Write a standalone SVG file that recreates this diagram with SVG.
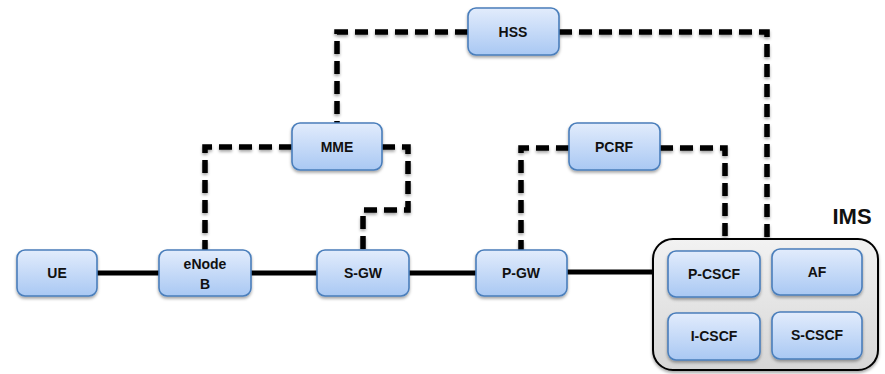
<svg xmlns="http://www.w3.org/2000/svg" width="885" height="374" viewBox="0 0 885 374">
<defs>
<linearGradient id="blue" x1="0" y1="0" x2="0" y2="1">
<stop offset="0" stop-color="#e2ecfc"/>
<stop offset="1" stop-color="#a9c8f3"/>
</linearGradient>
<linearGradient id="gray" x1="0" y1="0" x2="0" y2="1">
<stop offset="0" stop-color="#f2f2f2"/>
<stop offset="1" stop-color="#d6d6d6"/>
</linearGradient>
<filter id="sh" x="-20%" y="-20%" width="140%" height="150%">
<feDropShadow dx="0" dy="2" stdDeviation="1.5" flood-color="#000" flood-opacity="0.35"/>
</filter>
</defs>
<style>
.n{fill:url(#blue);stroke:#4a7ebb;stroke-width:1.6;filter:url(#sh)}
.t{font-family:"Liberation Sans",Arial,sans-serif;font-weight:bold;font-size:14px;fill:#111;text-anchor:middle}
.solid{fill:none;stroke:#000;stroke-width:5}
.dash{fill:none;stroke:#000;stroke-width:5.5;stroke-dasharray:13 7;filter:url(#sh)}
</style>
<rect width="885" height="374" fill="#fff"/>
<g id="connectors">
<path class="solid" d="M97,273 H159"/>
<path class="solid" d="M251,273 H317"/>
<path class="solid" d="M409,273 H476"/>
<path class="solid" d="M567,272 H653"/>
<path class="dash" d="M468,32 H337 V123"/>
<path class="dash" d="M292,147 H205 V250"/>
<path class="dash" d="M382,147 H408 V210 H363 V250"/>
<path class="dash" d="M559,32 H767 V239"/>
<path class="dash" d="M613,32 V123"/>
<path class="dash" d="M569,148 H521 V250"/>
<path class="dash" d="M660,148 H725 V239"/>
</g>
<g id="IMS">
<rect x="653" y="239" width="225" height="131" rx="20" fill="url(#gray)" stroke="#000" stroke-width="2" filter="url(#sh)"/>
<text x="852" y="224" font-family="Liberation Sans,Arial,sans-serif" font-weight="bold" font-size="22" text-anchor="middle" fill="#111">IMS</text>
</g>
<g id="UE"><rect class="n" x="17" y="250" width="80" height="46" rx="8"/><text class="t" x="57" y="278">UE</text></g>
<g id="eNodeB"><rect class="n" x="159" y="250" width="92" height="46" rx="8"/><text class="t" x="205" y="269">eNode</text><text class="t" x="205" y="289">B</text></g>
<g id="S-GW"><rect class="n" x="317" y="250" width="92" height="46" rx="8"/><text class="t" x="363" y="278">S-GW</text></g>
<g id="P-GW"><rect class="n" x="476" y="250" width="91" height="46" rx="8"/><text class="t" x="521" y="278">P-GW</text></g>
<g id="MME"><rect class="n" x="292" y="123" width="90" height="47" rx="8"/><text class="t" x="337" y="152">MME</text></g>
<g id="PCRF"><rect class="n" x="569" y="123" width="91" height="47" rx="8"/><text class="t" x="614" y="152">PCRF</text></g>
<g id="HSS"><rect class="n" x="468" y="8" width="91" height="47" rx="8"/><text class="t" x="513" y="37">HSS</text></g>
<g id="P-CSCF"><rect class="n" x="668" y="251" width="92" height="46" rx="8"/><text class="t" x="714" y="279">P-CSCF</text></g>
<g id="AF"><rect class="n" x="772" y="249" width="90" height="46" rx="8"/><text class="t" x="817" y="277">AF</text></g>
<g id="I-CSCF"><rect class="n" x="668" y="313" width="92" height="47" rx="8"/><text class="t" x="714" y="341">I-CSCF</text></g>
<g id="S-CSCF"><rect class="n" x="772" y="312" width="90" height="47" rx="8"/><text class="t" x="817" y="340">S-CSCF</text></g>
</svg>
